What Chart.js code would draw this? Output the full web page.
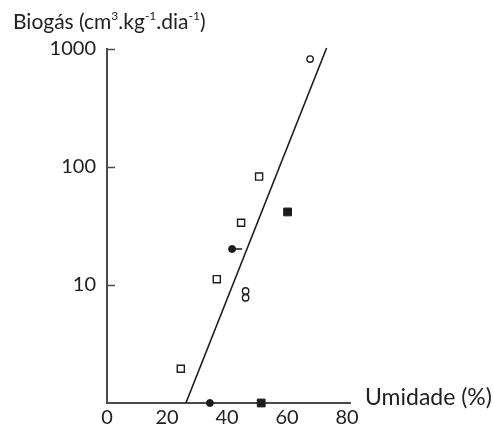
<!DOCTYPE html>
<html>
<head>
<meta charset="utf-8">
<script src="https://cdn.jsdelivr.net/npm/chart.js@4/dist/chart.umd.min.js"></script>
<style>
  body { margin: 0; background: #fff; }
  #wrap { position: relative; width: 493px; height: 427px; font-family: Lato, sans-serif; color: #222; }
  #chart { position: absolute; left: 0; top: 0; }
  .lbl { position: absolute; white-space: nowrap; }
  #ytitle { left: 13px; top: 10px; font-size: 21px; line-height: 21px; }
  #xtitle { left: 365px; top: 385px; font-size: 23px; line-height: 23px; }
  sup { font-size: 12px; line-height: 0; vertical-align: 9px; }
</style>
</head>
<body>
<div id="wrap">
  <canvas id="chart" width="493" height="427"></canvas>
  <div class="lbl" id="ytitle">Biogás (cm<sup>3</sup>.kg<sup>-1</sup>.dia<sup>-1</sup>)</div>
  <div class="lbl" id="xtitle">Umidade (%)</div>
</div>
<script>
// values (x = umidade %, y = biogás, log scale)
const xTicks = [0, 20, 40, 60, 80];
const yTicks = [10, 100, 1000];

const openSquares = [
    { x: 50.7, y: 83 },
    { x: 44.7, y: 33.7 },
    { x: 36.6, y: 11.2 },
    { x: 24.6, y: 1.95 }
];
const filledSquares = [
    { x: 60.2, y: 41.6 },
    { x: 51.4, y: 1 }
];
const openCircles = [
    { x: 67.7, y: 822 },
    { x: 46.2, y: 8.9 },
    { x: 46.2, y: 7.8 }
];
const filledCircles = [
    { x: 41.7, y: 20.2 },
    { x: 34.3, y: 1 }
];
const errorStub = [
    { x: 41.7, y: 20.2 }
];
const fitLine = [
    { x: 26.3, y: 1 },
    { x: 73.2, y: 1020 }
];

const ink = '#1c1c1c';
const axisColor = '#4a4a4a';

// small inward tick marks on the y axis
const innerTicks = {
    id: 'innerTicks',
    afterDraw(chart) {
        const ctx = chart.ctx;
        const y = chart.scales.y;
        const left = chart.chartArea.left;
        ctx.save();
        ctx.strokeStyle = axisColor;
        ctx.lineWidth = 1.5;
        yTicks.forEach(v => {
            const py = Math.round(y.getPixelForValue(v)) + 0.5;
            ctx.beginPath();
            ctx.moveTo(left - 1, py);
            ctx.lineTo(left + 8, py);
            ctx.stroke();
        });
        ctx.restore();
    }
};

new Chart(document.getElementById('chart'), {
    type: 'scatter',
    data: {
        datasets: [
            {
                data: fitLine,
                showLine: true,
                borderColor: ink,
                borderWidth: 1.6,
                pointRadius: 0,
                clip: false
            },
            {
                data: openSquares,
                pointStyle: 'rect',
                pointRadius: 5,
                pointBackgroundColor: '#fff',
                pointBorderColor: ink,
                pointBorderWidth: 1.4,
                clip: false
            },
            {
                data: filledSquares,
                pointStyle: 'rect',
                pointRadius: 5.5,
                pointBackgroundColor: ink,
                pointBorderColor: ink,
                pointBorderWidth: 1,
                clip: false
            },
            {
                data: openCircles,
                pointStyle: 'circle',
                pointRadius: 3.2,
                pointBackgroundColor: '#fff',
                pointBorderColor: ink,
                pointBorderWidth: 1.4,
                clip: false
            },
            {
                data: errorStub,
                pointStyle: 'dash',
                pointRadius: 10,
                pointBorderColor: ink,
                pointBorderWidth: 1.5,
                clip: false
            },
            {
                data: filledCircles,
                pointStyle: 'circle',
                pointRadius: 3.5,
                pointBackgroundColor: ink,
                pointBorderColor: ink,
                pointBorderWidth: 1,
                clip: false
            }
        ]
    },
    options: {
        responsive: false,
        animation: false,
        layout: { padding: { top: 49, right: 143, bottom: 0, left: 0 } },
        plugins: {
            legend: { display: false },
            tooltip: { enabled: false }
        },
        scales: {
            x: {
                type: 'linear',
                min: 0,
                max: 81,
                afterBuildTicks: s => { s.ticks = xTicks.map(v => ({ value: v })); },
                afterFit: s => { s.height = 24; },
                grid: { display: false, drawTicks: false },
                border: { display: true, color: axisColor, width: 2 },
                ticks: {
                    color: '#222',
                    padding: 3,
                    maxRotation: 0,
                    font: { family: 'Lato', size: 20 }
                }
            },
            y: {
                type: 'logarithmic',
                min: 1,
                max: 1000,
                afterBuildTicks: s => { s.ticks = yTicks.map(v => ({ value: v })); },
                afterFit: s => { s.width = 107; },
                grid: { display: false, drawTicks: false },
                border: { display: true, color: axisColor, width: 2 },
                ticks: {
                    color: '#222',
                    padding: 11,
                    font: { family: 'Lato', size: 20 },
                    callback: v => String(v)
                }
            }
        }
    },
    plugins: [innerTicks]
});
</script>
</body>
</html>
